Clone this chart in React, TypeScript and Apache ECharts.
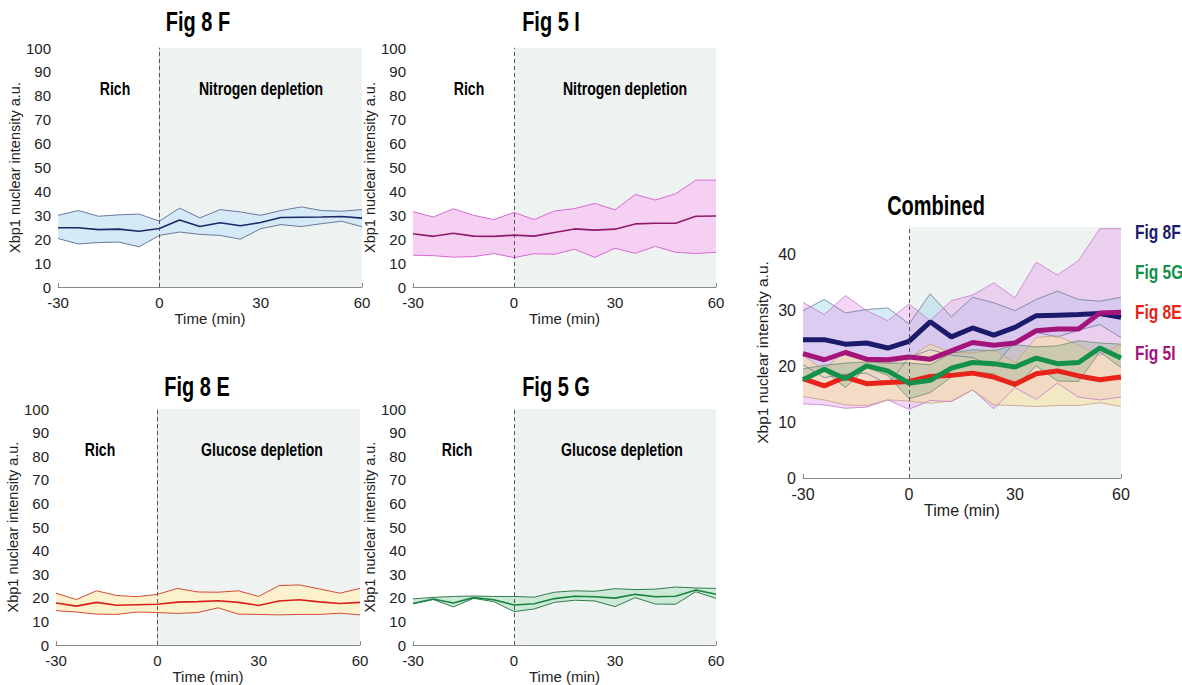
import React, { useEffect, useRef } from "react";
import * as echarts from "echarts";

const times = [-30, -24, -18, -12, -6, 0, 6, 12, 18, 24, 30, 36, 42, 48, 54, 60];

const fig8F_mean = [24.8, 24.8, 24.0, 24.2, 23.3, 24.5, 28.0, 25.3, 26.9, 25.6, 27.0, 29.1, 29.2, 29.3, 29.5, 28.8];
const fig8F_upper = [30.0, 32.0, 29.6, 30.2, 30.5, 27.6, 33.0, 28.9, 32.4, 31.4, 30.0, 32.0, 33.5, 32.0, 31.7, 32.4];
const fig8F_lower = [20.3, 18.0, 18.6, 18.8, 16.8, 21.6, 23.0, 22.0, 21.6, 20.0, 24.4, 26.1, 25.3, 26.5, 27.5, 25.2];

const fig5I_mean = [22.3, 21.2, 22.5, 21.3, 21.2, 21.7, 21.3, 22.8, 24.3, 23.8, 24.2, 26.4, 26.7, 26.7, 29.6, 29.7];
const fig5I_upper = [31.5, 29.3, 32.7, 30.0, 28.2, 31.2, 28.2, 31.8, 32.8, 35.0, 32.3, 38.7, 36.4, 39.0, 44.7, 44.7];
const fig5I_lower = [13.3, 13.1, 12.5, 12.7, 14.0, 12.3, 13.9, 13.7, 15.8, 12.4, 16.2, 14.1, 17.0, 14.5, 14.0, 14.5];

const fig8E_mean = [17.8, 16.5, 18.1, 16.9, 17.1, 17.3, 18.2, 18.4, 18.8, 18.1, 16.8, 18.7, 19.2, 18.3, 17.6, 18.1];
const fig8E_upper = [22.0, 19.3, 23.0, 21.0, 20.5, 21.5, 24.0, 22.5, 22.4, 23.0, 20.6, 25.2, 25.5, 23.8, 22.0, 24.0];
const fig8E_lower = [14.6, 14.0, 13.1, 13.0, 14.0, 13.8, 13.4, 13.8, 15.8, 13.1, 13.0, 12.8, 13.0, 13.0, 13.5, 12.8];

const fig5G_mean = [17.6, 19.5, 17.8, 20.1, 19.2, 17.0, 17.5, 19.7, 20.7, 20.5, 19.9, 21.5, 20.5, 20.7, 23.3, 21.5];
const fig5G_upper = [19.6, 20.2, 20.6, 20.8, 20.6, 20.6, 20.3, 22.4, 23.0, 22.8, 23.9, 23.5, 23.7, 24.6, 24.2, 24.0];
const fig5G_lower = [17.5, 19.3, 16.2, 19.8, 18.4, 14.2, 15.3, 18.1, 19.0, 18.7, 16.3, 20.1, 17.4, 17.3, 22.6, 19.8];

const xTicks = [-30, 0, 30, 60];
const yTicksSmall = [0, 10, 20, 30, 40, 50, 60, 70, 80, 90, 100];
const yTicksCombined = [0, 10, 20, 30, 40];

const panelTitles = ["Fig 8 F", "Fig 5 I", "Fig 8 E", "Fig 5 G", "Combined"];
const conditionLabels = ["Nitrogen depletion", "Nitrogen depletion", "Glucose depletion", "Glucose depletion"];
const legendNames = ["Fig 8F", "Fig 5G", "Fig 8E", "Fig 5I"];

const NARROW = '"Liberation Sans Narrow", "Liberation Sans", Arial, sans-serif';
const SANS = '"Liberation Sans", Arial, Helvetica, sans-serif';
const BG = "#eef2f0";
const SQUEEZE = 0.74;

type Style = { fill: string; border: string; mean: string; fillOpacity: number; meanWidth: number; borderWidth: number };

const grids = [
  { left: 58, top: 48, width: 304, height: 239 },
  { left: 413, top: 48, width: 303, height: 239 },
  { left: 56, top: 409, width: 304, height: 238 },
  { left: 413, top: 409, width: 303, height: 238 },
  { left: 803, top: 227, width: 318, height: 251 },
];

function pairs(vals: number[]) {
  return times.map((t, i) => [t, vals[i]]);
}

function bandSeries(g: number, up: number[], lo: number[], st: Style) {
  return [
    {
      type: "custom",
      xAxisIndex: g,
      yAxisIndex: g,
      data: [[times[0], lo[0]]],
      z: 2,
      silent: true,
      renderItem: (_params: any, api: any) => {
        const top = times.map((t, i) => api.coord([t, up[i]]));
        const bot = times.map((t, i) => api.coord([t, lo[i]])).reverse();
        return {
          type: "polygon",
          shape: { points: top.concat(bot) },
          style: { fill: st.fill, opacity: st.fillOpacity },
        };
      },
    },
    {
      type: "line",
      xAxisIndex: g,
      yAxisIndex: g,
      data: pairs(lo),
      symbol: "none",
      lineStyle: { color: st.border, width: st.borderWidth },
      z: 2,
      silent: true,
    },
    {
      type: "line",
      xAxisIndex: g,
      yAxisIndex: g,
      data: pairs(up),
      symbol: "none",
      lineStyle: { color: st.border, width: st.borderWidth },
      z: 2,
      silent: true,
    },
  ];
}

function meanSeries(g: number, mean: number[], st: Style, z = 3) {
  return {
    type: "line",
    xAxisIndex: g,
    yAxisIndex: g,
    data: pairs(mean),
    symbol: "none",
    lineStyle: { color: st.mean, width: st.meanWidth },
    z,
    silent: true,
  };
}

function bgSeries(g: number) {
  return {
    type: "line",
    xAxisIndex: g,
    yAxisIndex: g,
    data: [],
    silent: true,
    z: 1,
    markArea: {
      silent: true,
      itemStyle: { color: BG },
      data: [[{ xAxis: 0 }, { xAxis: 60 }]],
    },
  };
}

function dashSeries(g: number) {
  return {
    type: "line",
    xAxisIndex: g,
    yAxisIndex: g,
    data: [],
    silent: true,
    z: 5,
    markLine: {
      silent: true,
      symbol: ["none", "none"],
      label: { show: false },
      lineStyle: { color: "#555", width: 1, type: [4, 3] },
      data: [{ xAxis: 0 }],
    },
  };
}

const smallStyles: Style[] = [
  { fill: "#d6e9f6", border: "#6a789e", mean: "#1f2867", fillOpacity: 1, meanWidth: 1.6, borderWidth: 1 },
  { fill: "#f6d0f3", border: "#d56ad4", mean: "#8e1a6a", fillOpacity: 1, meanWidth: 1.6, borderWidth: 1 },
  { fill: "#fbf2cd", border: "#d64a36", mean: "#d8201a", fillOpacity: 1, meanWidth: 1.6, borderWidth: 1 },
  { fill: "#cde9d8", border: "#2f7d4c", mean: "#17853f", fillOpacity: 1, meanWidth: 1.6, borderWidth: 1 },
];

const combStyles: Style[] = [
  { fill: "#a2d8ec", border: "#6f7b98", mean: "#1c1a6a", fillOpacity: 0.45, meanWidth: 5, borderWidth: 0.8 },
  { fill: "#e6a4ee", border: "#c27cc8", mean: "#a3157a", fillOpacity: 0.45, meanWidth: 5, borderWidth: 0.8 },
  { fill: "#f6e2a0", border: "#c99c86", mean: "#e8231a", fillOpacity: 0.55, meanWidth: 5, borderWidth: 0.8 },
  { fill: "#86ad8a", border: "#6f8d75", mean: "#139049", fillOpacity: 0.35, meanWidth: 5, borderWidth: 0.8 },
];

const legendColors = ["#1c1a6a", "#139049", "#e8231a", "#a3157a"];

export default function App() {
  const ref = useRef<HTMLDivElement>(null);
  useEffect(() => {
    if (!ref.current) return;
    const chart = echarts.init(ref.current, null, { renderer: "svg" });

    const xAxes = grids.map((_, g) => {
      const comb = g === 4;
      return {
        type: "value",
        gridIndex: g,
        min: -30,
        max: 60,
        interval: 30,
        name: "Time (min)",
        nameLocation: "middle",
        nameGap: comb ? 23 : 23,
        nameTextStyle: { fontFamily: SANS, fontSize: comb ? 16 : 15, color: "#222" },
        axisLine: { show: true, lineStyle: { color: "#8a8a8a", width: 1 } },
        axisTick: { show: true, inside: true, length: 4, lineStyle: { color: "#8a8a8a" } },
        splitLine: { show: false },
        axisLabel: {
          fontFamily: SANS,
          fontSize: comb ? 16 : 15,
          color: "#222",
          margin: 8,
          formatter: (v: number) => (xTicks.includes(v) ? String(v) : ""),
        },
      };
    });

    const yAxes = grids.map((_, g) => {
      const comb = g === 4;
      const ticks = comb ? yTicksCombined : yTicksSmall;
      return {
        type: "value",
        gridIndex: g,
        min: 0,
        max: comb ? 45 : 100,
        interval: 10,
        name: "Xbp1 nuclear intensity a.u.",
        nameLocation: "middle",
        nameGap: comb ? 33 : 32,
        nameTextStyle: { fontFamily: SANS, fontSize: comb ? 15.5 : 14.5, color: "#222" },
        axisLine: { show: true, lineStyle: { color: "#8a8a8a", width: 1 } },
        axisTick: { show: true, inside: true, length: 4, lineStyle: { color: "#8a8a8a" } },
        splitLine: { show: false },
        axisLabel: {
          fontFamily: SANS,
          fontSize: comb ? 16 : 15,
          color: "#222",
          margin: 7,
          formatter: (v: number) => (ticks.includes(v) ? String(v) : ""),
        },
      };
    });

    const smallData = [
      [fig8F_upper, fig8F_lower, fig8F_mean],
      [fig5I_upper, fig5I_lower, fig5I_mean],
      [fig8E_upper, fig8E_lower, fig8E_mean],
      [fig5G_upper, fig5G_lower, fig5G_mean],
    ];

    const series: any[] = [];
    for (let g = 0; g < 4; g++) {
      const [up, lo, mn] = smallData[g];
      series.push(bgSeries(g));
      series.push(...bandSeries(g, up, lo, smallStyles[g]));
      series.push(meanSeries(g, mn, smallStyles[g]));
      series.push(dashSeries(g));
    }
    // combined
    series.push(bgSeries(4));
    series.push(...bandSeries(4, fig8F_upper, fig8F_lower, combStyles[0]));
    series.push(...bandSeries(4, fig5I_upper, fig5I_lower, combStyles[1]));
    series.push(...bandSeries(4, fig8E_upper, fig8E_lower, combStyles[2]));
    series.push(...bandSeries(4, fig5G_upper, fig5G_lower, combStyles[3]));
    series.push(meanSeries(4, fig8F_mean, combStyles[0], 3));
    series.push(meanSeries(4, fig8E_mean, combStyles[2], 3));
    series.push(meanSeries(4, fig5I_mean, combStyles[1], 3));
    series.push(meanSeries(4, fig5G_mean, combStyles[3], 3));
    series.push(dashSeries(4));

    const titlePos = [
      [198, 21],
      [551, 21],
      [197, 386],
      [556, 386],
      [936, 205],
    ];
    const richPos = [
      [115, 89],
      [469, 89],
      [100, 450],
      [457, 450],
    ];
    const condPos = [
      [261, 89],
      [625, 89],
      [262, 450],
      [622, 450],
    ];
    const legendY = [232, 272, 312, 353];

    const graphic: any[] = [];
    const txt = (text: string, x: number, y: number, size: number, fill: string, align = "center") => ({
      type: "text",
      x,
      y,
      scaleX: SQUEEZE,
      z: 100,
      style: { text, fill, fontFamily: NARROW, fontWeight: "bold", fontSize: size, align, verticalAlign: "middle" },
    });
    panelTitles.forEach((t, i) => graphic.push(txt(t, titlePos[i][0], titlePos[i][1], 27, "#000")));
    richPos.forEach((p, i) => {
      graphic.push(txt("Rich", p[0], p[1], 19, "#000"));
      graphic.push(txt(conditionLabels[i], condPos[i][0], condPos[i][1], 19, "#000"));
    });
    legendNames.forEach((n, i) => graphic.push(txt(n, 1135, legendY[i], 21, legendColors[i], "left")));

    chart.setOption({
      animation: false,
      backgroundColor: "#fff",
      grid: grids,
      xAxis: xAxes,
      yAxis: yAxes,
      series,
      graphic,
    });
    return () => chart.dispose();
  }, []);

  return <div ref={ref} style={{ position: "fixed", left: 0, top: 0, width: 1182, height: 685 }} />;
}
